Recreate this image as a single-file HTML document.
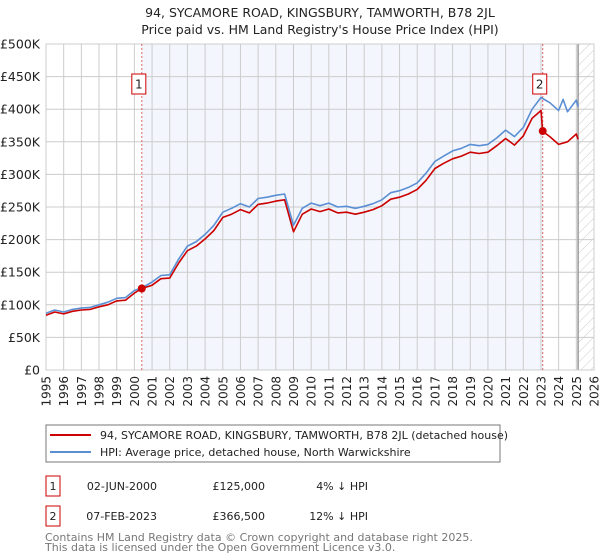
<!DOCTYPE html>
<html><head><meta charset="utf-8"><style>
body{margin:0;background:#fff;font-family:"DejaVu Sans","Liberation Sans",sans-serif}
svg{display:block;font-family:"DejaVu Sans","Liberation Sans",sans-serif}
</style></head><body>
<svg id="c" width="600" height="560" xmlns="http://www.w3.org/2000/svg">
<defs><pattern id="hatch" width="7" height="7" patternUnits="userSpaceOnUse" patternTransform="rotate(45)"><line x1="0" y1="0" x2="0" y2="7" stroke="#ccc" stroke-width="1"/></pattern></defs>
<text x="320" y="17" font-size="12.5" text-anchor="middle" fill="#222">94, SYCAMORE ROAD, KINGSBURY, TAMWORTH, B78 2JL</text>
<text x="320" y="34" font-size="12.5" text-anchor="middle" fill="#222">Price paid vs. HM Land Registry's House Price Index (HPI)</text>
<g id="plot"></g>
<g>
<rect x="46" y="425" width="454" height="37" fill="#fff" stroke="#777"/>
<line x1="50" y1="435" x2="91" y2="435" stroke="#cc0000" stroke-width="2"/>
<text x="100" y="439" font-size="11" fill="#222">94, SYCAMORE ROAD, KINGSBURY, TAMWORTH, B78 2JL (detached house)</text>
<line x1="50" y1="452" x2="91" y2="452" stroke="#5b8fd4" stroke-width="2"/>
<text x="100" y="456" font-size="11" fill="#222">HPI: Average price, detached house, North Warwickshire</text>
</g>
<g font-size="11" fill="#222">
<rect x="46" y="476" width="14" height="20" fill="#fff" stroke="#cc0000"/>
<text x="53" y="490" text-anchor="middle">1</text>
<text x="157" y="490" text-anchor="end">02-JUN-2000</text>
<text x="265" y="490" text-anchor="end">£125,000</text>
<text x="368" y="490" text-anchor="end">4% ↓ HPI</text>
<rect x="46" y="506" width="14" height="20" fill="#fff" stroke="#cc0000"/>
<text x="53" y="520" text-anchor="middle">2</text>
<text x="157" y="520" text-anchor="end">07-FEB-2023</text>
<text x="265" y="520" text-anchor="end">£366,500</text>
<text x="368" y="520" text-anchor="end">12% ↓ HPI</text>
</g>
<text x="45" y="541" font-size="11" fill="#777">Contains HM Land Registry data © Crown copyright and database right 2025.</text>
<text x="45" y="551" font-size="11" fill="#777">This data is licensed under the Open Government Licence v3.0.</text>
</svg>
<script>
const hpiYears=[1995,1995.5,1996,1996.5,1997,1997.5,1998,1998.5,1999,1999.5,2000,2000.5,2001,2001.5,2002,2002.5,2003,2003.5,2004,2004.5,2005,2005.5,2006,2006.5,2007,2007.5,2008,2008.5,2009,2009.5,2010,2010.5,2011,2011.5,2012,2012.5,2013,2013.5,2014,2014.5,2015,2015.5,2016,2016.5,2017,2017.5,2018,2018.5,2019,2019.5,2020,2020.5,2021,2021.5,2022,2022.5,2023,2023.5,2024,2024.25,2024.5,2025,2025.1];
const hpiValues=[87,92,89,93,95,96,100,104,110,111,122,127,135,145,146,170,190,197,208,222,242,248,255,250,263,265,268,270,222,248,256,252,256,250,251,248,251,255,261,272,275,280,287,302,320,328,336,340,346,344,346,356,368,358,372,400,418,410,398,415,396,414,404];
const priceYears=[1995,1995.5,1996,1996.5,1997,1997.5,1998,1998.5,1999,1999.5,2000,2000.42,2001,2001.5,2002,2002.5,2003,2003.5,2004,2004.5,2005,2005.5,2006,2006.5,2007,2007.5,2008,2008.5,2009,2009.5,2010,2010.5,2011,2011.5,2012,2012.5,2013,2013.5,2014,2014.5,2015,2015.5,2016,2016.5,2017,2017.5,2018,2018.5,2019,2019.5,2020,2020.5,2021,2021.5,2022,2022.5,2023,2023.1,2023.5,2024,2024.5,2025,2025.1];
const priceValues=[84,89,86,90,92,93,97,100,106,107,118,125,130,140,141,164,183,190,201,214,234,239,246,241,254,256,259,261,212,239,247,243,247,241,242,239,242,246,252,262,265,270,277,291,309,317,324,328,334,332,334,344,355,345,359,386,398,366,358,346,350,362,354];
const saleYears=[2000.42,2023.1];
const saleValues=[125,366.5];
const saleLabels=["1","2"];
const yTicks=[0,50,100,150,200,250,300,350,400,450,500];
const yTickLabels=["£0","£50K","£100K","£150K","£200K","£250K","£300K","£350K","£400K","£450K","£500K"];
const xTicks=[1995,1996,1997,1998,1999,2000,2001,2002,2003,2004,2005,2006,2007,2008,2009,2010,2011,2012,2013,2014,2015,2016,2017,2018,2019,2020,2021,2022,2023,2024,2025,2026];

const X0=46,X1=594,Y0=370,Y1=44;
const xs=y=>X0+(y-1995)/(2026-1995)*(X1-X0);
const ys=v=>Y0-v/500*(Y0-Y1);
const NS="http://www.w3.org/2000/svg";
const g=document.getElementById('plot');
function el(t,a){const e=document.createElementNS(NS,t);for(const k in a)e.setAttribute(k,a[k]);g.appendChild(e);return e;}

let e=el('rect',{x:xs(saleYears[0]),y:Y1,width:xs(saleYears[1])-xs(saleYears[0]),height:Y0-Y1,fill:'#f3f6fd'});


e=el('rect',{x:xs(2025.1),y:Y1,width:X1-xs(2025.1),height:Y0-Y1,fill:'url(#hatch)'});



yTicks.forEach((t,i)=>{
 let l=el('line',{x1:X0,x2:X1,y1:ys(t),y2:ys(t),stroke:'#ccc','stroke-width':1});
 
 
 let tx=el('text',{x:40,y:ys(t)+4.5,'font-size':12.5,'text-anchor':'end',fill:'#222'});
 tx.textContent=yTickLabels[i];
 
 
});
xTicks.forEach(t=>{
 let l=el('line',{x1:xs(t),x2:xs(t),y1:Y1,y2:Y0,stroke:'#ccc','stroke-width':1});
 
 
 let tx=el('text',{x:0,y:0,'font-size':12,'text-anchor':'end',fill:'#222',transform:`translate(${xs(t)+4.5},${Y0+6}) rotate(-90)`});
 tx.textContent=t;
 
 
});
e=el('line',{x1:xs(2025.1),x2:xs(2025.1),y1:Y1,y2:Y0,stroke:'#999','stroke-width':1.5});


e=el('rect',{x:X0,y:Y1,width:X1-X0,height:Y0-Y1,fill:'none',stroke:'#ccc'});



saleYears.forEach((s,i)=>{
 let l=el('line',{x1:xs(s),x2:xs(s),y1:Y1,y2:Y0,stroke:'#e06060','stroke-width':1,'stroke-dasharray':'2,2'});
 
 
});

function pts(xa,va){return xa.map((x,i)=>xs(x).toFixed(1)+','+ys(va[i]).toFixed(1)).join(' ');}
e=el('polyline',{points:pts(hpiYears,hpiValues),fill:'none',stroke:'#5b8fd4','stroke-width':1.6,'stroke-linejoin':'round'});


e=el('polyline',{points:pts(priceYears,priceValues),fill:'none',stroke:'#cc0000','stroke-width':1.6,'stroke-linejoin':'round'});



saleYears.forEach((s,i)=>{
 let c=el('circle',{cx:xs(s),cy:ys(saleValues[i]),r:4,fill:'#cc0000'});
 
 
 let r=el('rect',{x:xs(s)-10,y:74,width:14,height:20,fill:'#fff',stroke:'#cc0000'});
 
 
 let t=el('text',{x:xs(s)-3,y:88.5,'font-size':12,'text-anchor':'middle',fill:'#222'});
 t.textContent=saleLabels[i];
 
 
});
</script>
</body></html>
